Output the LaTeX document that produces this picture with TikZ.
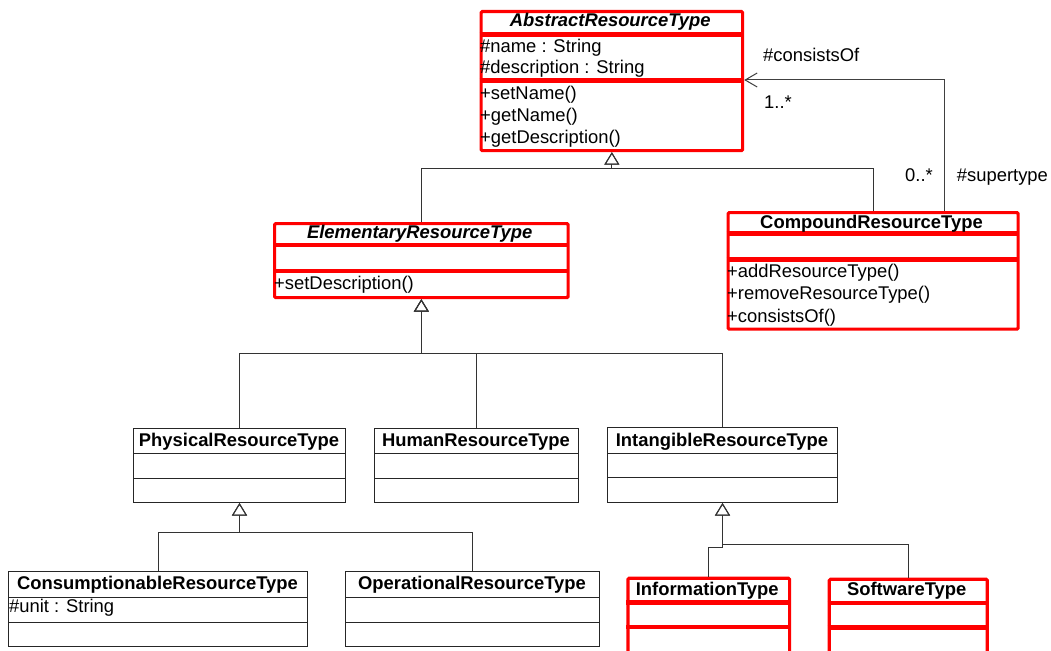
\documentclass[tikz,border=0pt]{standalone}
\usepackage{fontspec}
\setmainfont{Liberation Sans}
\usetikzlibrary{arrows.meta}

% class box: name, style, left, top, right, bottom, first separator, second separator
\newcommand\umlbox[8]{%
  \node[#2, minimum width={#5-#3}, minimum height={#6-#4}, anchor=north west] (#1) at (#3,#4) {};
  \draw[#2 sep] (#3,#7) -- (#5,#7);
  \draw[#2 sep] (#3,#8) -- (#5,#8);
}

\begin{document}
\begin{tikzpicture}[x=1pt,y=-1pt,
  redbox/.style={draw=red, line width=3.2pt, rounded corners=1.2pt, inner sep=0pt},
  redbox sep/.style={draw=red, line width=4.5pt},
  blackbox/.style={draw=black!85, line width=1pt, inner sep=0pt},
  blackbox sep/.style={draw=black!85, line width=1pt},
  clsname/.style={font=\fontsize{18.4}{22}\selectfont\bfseries, anchor=base, inner sep=0pt},
  iclsname/.style={clsname, font=\fontsize{18.4}{22}\selectfont\bfseries\itshape},
  clsmember/.style={font=\fontsize{18.4}{22}\selectfont, anchor=base west, inner sep=0pt},
  assoclabel/.style={font=\fontsize{18.4}{22}\selectfont, anchor=base west, inner sep=0pt},
  gen/.style={draw=black!80, line width=1pt, -{Triangle[open, length=12.5pt, width=15pt]}},
  assoc/.style={draw=black!75, line width=1pt, -{Straight Barb[length=12pt, width=14pt]}},
]
\useasboundingbox (0,0) rectangle (1051,650);
\clip (0,0) rectangle (1051,650);
\fill[white] (0,0) rectangle (1051,650);

% ---- classes ----
\umlbox{abs}{redbox}{479.5}{10}{741}{149}{34.5}{80.5}
\node[iclsname] (absT) at (610.25,27) {AbstractResourceType};
\node[clsmember] (absA1) at (480,52.5) {\#name : String};
\node[clsmember] (absA2) at (480,74) {\#description : String};
\node[clsmember] (absO1) at (480,99.5) {+setName()};
\node[clsmember] (absO2) at (480,121.5) {+getName()};
\node[clsmember] (absO3) at (480,143.5) {+getDescription()};

\umlbox{elem}{redbox}{273}{222}{566.5}{296}{245}{271}
\node[iclsname] (elemT) at (419.75,238.3) {ElementaryResourceType};
\node[clsmember] (elemO1) at (274,289) {+setDescription()};

\umlbox{comp}{redbox}{726.5}{211}{1016.5}{327.5}{233.5}{259.5}
\node[clsname] (compT) at (871.5,228.3) {CompoundResourceType};
\node[clsmember] (compO1) at (727,277) {+addResourceType()};
\node[clsmember] (compO2) at (727,299.5) {+removeResourceType()};
\node[clsmember] (compO3) at (727,322) {+consistsOf()};

\umlbox{phys}{blackbox}{133}{428}{345}{502}{453}{478}
\node[clsname] (physT) at (239,446) {PhysicalResourceType};

\umlbox{human}{blackbox}{374}{428}{578}{502}{453}{478}
\node[clsname] (humanT) at (476,446) {HumanResourceType};

\umlbox{intang}{blackbox}{607}{427}{837}{502}{453}{477}
\node[clsname] (intangT) at (722,446) {IntangibleResourceType};

\umlbox{cons}{blackbox}{8}{571}{307}{646}{597}{622}
\node[clsname] (consT) at (157.5,589.3) {ConsumptionableResourceType};
\node[clsmember] (consA1) at (9,612.7) {\#unit : String};

\umlbox{oper}{blackbox}{345}{571}{599}{646}{597}{622}
\node[clsname] (operT) at (472,589.3) {OperationalResourceType};

\umlbox{info}{redbox}{626.3}{576.7}{788}{662}{602.5}{627}
\node[clsname] (infoT) at (707.2,595) {InformationType};

\umlbox{soft}{redbox}{827.7}{577.7}{985.7}{662}{603}{627.5}
\node[clsname] (softT) at (906.7,595.7) {SoftwareType};

% ---- generalizations ----
\coordinate (ab) at (abs.south |- 0,168);
\draw[gen] (elem.north) |- (ab) -- (abs.south);
\draw[gen] (comp.north) |- (ab) -- (abs.south);

\coordinate (eb) at (elem.south |- 0,353);
\draw[gen] (phys.north) |- (eb) -- (elem.south);
\draw[gen] (human.north) |- (eb) -- (elem.south);
\draw[gen] (intang.north) |- (eb) -- (elem.south);

\coordinate (pb) at (phys.south |- 0,532);
\draw[gen] (cons.north) |- (pb) -- (phys.south);
\draw[gen] (oper.north) |- (pb) -- (phys.south);

\coordinate (ib) at (intang.south |- 0,547);
\coordinate (sb) at (intang.south |- 0,544);
\draw[gen] (info.north) |- (ib) -- (intang.south);
\draw[gen] (soft.north) |- (sb) -- (intang.south);

% ---- association ----
\coordinate (asc) at (944,80);
\draw[assoc] (comp.north -| asc) |- (abs.east |- asc);
\node[assoclabel] (lcons) at (763,61.7) {\#consistsOf};
\node[assoclabel] (lmany) at (764,109) {1..*};
\node[assoclabel] (lzero) at (905,181.7) {0..*};
\node[assoclabel] (lsup) at (956.7,181.7) {\#supertype};
\end{tikzpicture}
\end{document}
